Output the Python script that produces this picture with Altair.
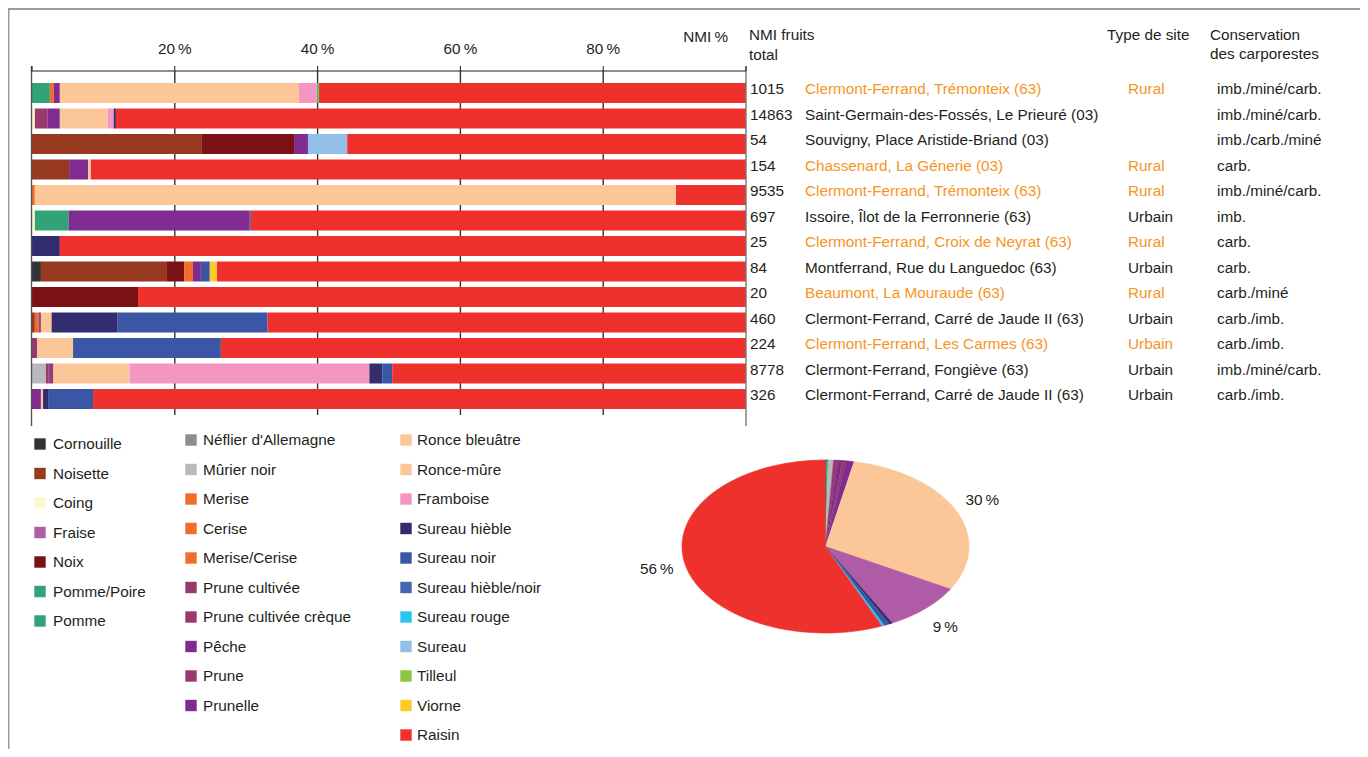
import altair as alt
import pandas as pd

FONT = "Liberation Sans"
FS = 15.3
DARK = "#231F20"
ORANGE = "#F7941D"

# ---------------- species / colours ----------------
species = ["Cornouille", "Noisette", "Coing", "Fraise", "Noix", "Pomme/Poire", "Pomme",
           "Néflier d'Allemagne", "Mûrier noir", "Merise", "Cerise", "Merise/Cerise",
           "Prune cultivée", "Prune cultivée crèque", "Pêche", "Prune", "Prunelle",
           "Ronce bleuâtre", "Ronce-mûre", "Framboise", "Sureau hièble", "Sureau noir",
           "Sureau hièble/noir", "Sureau rouge", "Sureau", "Tilleul", "Viorne", "Raisin"]
colors = ["#333333", "#96391F", "#FBF8CB", "#B05BA6", "#7A1214", "#33A276", "#33A276",
          "#8C8D91", "#B8B9BC", "#F26D2C", "#F26D2C", "#F26D2C",
          "#983A6C", "#983A6C", "#7F2B8F", "#983A6C", "#7F2B8F",
          "#FBC798", "#FBC798", "#F397C1", "#332C6F", "#3A56A4",
          "#4466B0", "#29C4F2", "#92BFE6", "#8DC641", "#FFCB2B", "#EE312C"]
legend_col1 = species[:7]
legend_col2 = species[7:17]
legend_col3 = species[17:]

# ---------------- sites table ----------------
nmi_total = [1015, 14863, 54, 154, 9535, 697, 25, 84, 20, 460, 224, 8778, 326]
sites = ["Clermont-Ferrand, Trémonteix (63)", "Saint-Germain-des-Fossés, Le Prieuré (03)",
         "Souvigny, Place Aristide-Briand (03)", "Chassenard, La Génerie (03)",
         "Clermont-Ferrand, Trémonteix (63)", "Issoire, Îlot de la Ferronnerie (63)",
         "Clermont-Ferrand, Croix de Neyrat (63)", "Montferrand, Rue du Languedoc (63)",
         "Beaumont, La Mouraude (63)", "Clermont-Ferrand, Carré de Jaude II (63)",
         "Clermont-Ferrand, Les Carmes (63)", "Clermont-Ferrand, Fongiève (63)",
         "Clermont-Ferrand, Carré de Jaude II (63)"]
site_type = ["Rural", "", "", "Rural", "Rural", "Urbain", "Rural", "Urbain", "Rural",
             "Urbain", "Urbain", "Urbain", "Urbain"]
conservation = ["imb./miné/carb.", "imb./miné/carb.", "imb./carb./miné", "carb.",
                "imb./miné/carb.", "imb.", "carb.", "carb.", "carb./miné", "carb./imb.",
                "carb./imb.", "imb./miné/carb.", "carb./imb."]
highlight = [True, False, False, True, True, False, True, False, True, False, True, False, False]

# ---------------- bar compositions (NMI %) ----------------
bar_species = [
    ["Pomme/Poire", "Merise", "Prunelle", "Ronce bleuâtre", "Framboise", "Sureau", "Tilleul", "Raisin"],
    ["Coing", "Prune cultivée", "Prunelle", "Ronce bleuâtre", "Framboise", "Sureau hièble", "Raisin"],
    ["Noisette", "Noix", "Prunelle", "Sureau", "Raisin"],
    ["Noisette", "Prunelle", "Ronce bleuâtre", "Raisin"],
    ["Merise", "Ronce-mûre", "Raisin"],
    ["Coing", "Pomme", "Prunelle", "Sureau noir", "Raisin"],
    ["Sureau hièble", "Raisin"],
    ["Cornouille", "Noisette", "Noix", "Merise", "Prunelle", "Sureau noir", "Viorne", "Raisin"],
    ["Noix", "Raisin"],
    ["Noisette", "Merise", "Prune", "Pêche", "Ronce bleuâtre", "Sureau hièble", "Sureau noir", "Raisin"],
    ["Prune cultivée", "Ronce bleuâtre", "Sureau noir", "Raisin"],
    ["Mûrier noir", "Prune cultivée", "Pêche", "Prune", "Ronce bleuâtre", "Framboise", "Sureau hièble", "Sureau noir", "Raisin"],
    ["Prunelle", "Ronce bleuâtre", "Sureau hièble", "Sureau noir", "Raisin"],
]
bar_values = [
    [2.5, 0.55, 0.85, 33.5, 2.4, 0.2, 0.2, 59.8],
    [0.4, 1.8, 1.7, 6.7, 0.85, 0.3, 88.25],
    [23.8, 12.9, 1.95, 5.5, 55.85],
    [5.2, 2.65, 0.4, 91.75],
    [0.4, 89.8, 9.8],
    [0.4, 4.75, 25.35, 0.15, 69.35],
    [3.9, 96.1],
    [1.25, 17.65, 2.4, 1.25, 1.1, 1.25, 1.0, 74.1],
    [14.85, 85.15],
    [0.4, 0.55, 0.15, 0.15, 1.5, 9.25, 21.0, 67.0],
    [0.7, 5.05, 20.7, 73.55],
    [1.95, 0.4, 0.15, 0.5, 10.65, 33.6, 1.8, 1.4, 49.55],
    [1.25, 0.3, 0.7, 6.3, 91.45],
]

# ---------------- pie (clockwise from top) ----------------
pie_species = ["Cornouille", "Pomme/Poire", "Mûrier noir", "Prune cultivée", "Pêche", "Prune",
               "Prunelle", "Ronce bleuâtre", "Fraise", "Sureau hièble", "Sureau noir",
               "Sureau rouge", "Raisin"]
pie_values = [0.1, 0.2, 0.6, 0.5, 0.5, 0.4, 0.9, 30.0, 9.1, 0.4, 0.6, 0.3, 56.4]

tick_values = [0, 20, 40, 60, 80, 100]
grid_values = [20, 40, 60, 80]

# ---------------- tables ----------------
rows = []
for i, (sp_list, v_list) in enumerate(zip(bar_species, bar_values)):
    for s, v in zip(sp_list, v_list):
        rows.append({"row": i, "species": s, "value": v, "sp_idx": species.index(s)})
bar_df = pd.DataFrame(rows)

table_df = pd.DataFrame({
    "row": list(range(len(sites))),
    "nmi": [str(n) for n in nmi_total],
    "site": sites,
    "type": site_type,
    "cons": conservation,
    "col": [ORANGE if h else DARK for h in highlight],
})

pie_df = pd.DataFrame({"species": pie_species, "value": pie_values,
                       "idx": list(range(len(pie_species)))})

W, H = 1352, 741
sp_scale = alt.Scale(domain=species, range=colors)
XB = alt.Scale(domain=[0, 100], range=[24, 738], nice=False, zero=False)
YB = alt.Scale(domain=list(range(13)), range=[72.25, 403.75], paddingInner=0.216, paddingOuter=0.108)
XP = alt.Scale(domain=[-1, 1], range=[674, 961], nice=False, zero=False)
YP = alt.Scale(domain=[-1, 1], range=[452, 625], nice=False, zero=False)

layers = []

# frame
frame_df = pd.DataFrame({"a": [0]})
layers.append(alt.Chart(frame_df).mark_rule(color="#9A9A9A", strokeWidth=2).encode(
    x=alt.value(0), x2=alt.value(W), y=alt.value(1)))
layers.append(alt.Chart(frame_df).mark_rule(color="#9A9A9A", strokeWidth=2).encode(
    x=alt.value(0.5), y=alt.value(1), y2=alt.value(H)))

# gridlines
layers.append(alt.Chart(pd.DataFrame({"t": grid_values})).mark_rule(color="#333333", strokeWidth=1.4).encode(
    x=alt.X("t:Q", scale=XB, axis=None), y=alt.value(63), y2=alt.value(407)))

# bars
layers.append(alt.Chart(bar_df).mark_bar().encode(
    x=alt.X("value:Q", stack="zero", scale=XB, axis=None),
    y=alt.Y("row:O", scale=YB, axis=None),
    color=alt.Color("species:N", scale=sp_scale, legend=None),
    order=alt.Order("sp_idx:Q", sort="ascending"),
))

# axis lines
layers.append(alt.Chart(frame_df).mark_rule(color="#555555", strokeWidth=1.4).encode(
    x=alt.value(23.5), y=alt.value(58), y2=alt.value(418)))
layers.append(alt.Chart(frame_df).mark_rule(color="#777777", strokeWidth=1.4).encode(
    x=alt.value(738), y=alt.value(58), y2=alt.value(418)))
layers.append(alt.Chart(frame_df).mark_rule(color=DARK, strokeWidth=1.2).encode(
    x=alt.value(23.5), x2=alt.value(738), y=alt.value(63)))
tick_df = pd.DataFrame({"t": tick_values})
layers.append(alt.Chart(tick_df).mark_rule(color=DARK, strokeWidth=1).encode(
    x=alt.X("t:Q", scale=XB, axis=None), y=alt.value(58), y2=alt.value(63)))
layers.append(alt.Chart(tick_df).transform_filter("datum.t > 0 && datum.t < 100").transform_calculate(
    lab="datum.t + '\u2009%'").mark_text(font=FONT, fontSize=FS, color=DARK, baseline="middle").encode(
    x=alt.X("t:Q", scale=XB, axis=None), y=alt.value(41), text="lab:N"))

# headers
def label(txt, x, y, align="left"):
    return alt.Chart(pd.DataFrame({"t": [txt]})).mark_text(
        font=FONT, fontSize=FS, color=DARK, align=align, baseline="middle").encode(
        x=alt.value(x), y=alt.value(y), text="t:N")

layers += [
    label("NMI\u2009%", 720, 29, "right"),
    label("NMI fruits", 741, 27),
    label("total", 741, 47),
    label("Type de site", 1099, 27),
    label("Conservation", 1202, 27),
    label("des carporestes", 1202, 46),
]

# table text
def col_text(field, x, colored):
    enc = dict(x=alt.value(x), y=alt.Y("row:O", scale=YB, axis=None), text=f"{field}:N")
    if colored:
        enc["color"] = alt.Color("col:N", scale=None)
    mk = alt.Chart(table_df).mark_text(font=FONT, fontSize=FS, align="left", baseline="middle",
                                       dy=-4, color=DARK)
    return mk.encode(**enc)

layers += [
    col_text("nmi", 742, False),
    col_text("site", 797, True),
    col_text("type", 1120, True),
    col_text("cons", 1209, False),
]

# legend columns
def legend_col(names, sq_x, txt_x, top):
    df = pd.DataFrame({"species": names, "i": list(range(len(names)))})
    ys = alt.Scale(domain=[0, 10], range=[top, top + 295], nice=False, zero=False)
    sq = alt.Chart(df).mark_square(size=130, opacity=1).encode(
        x=alt.value(sq_x), y=alt.Y("i:Q", scale=ys, axis=None),
        color=alt.Color("species:N", scale=sp_scale, legend=None))
    tx = alt.Chart(df).mark_text(font=FONT, fontSize=FS, color=DARK, align="left", baseline="middle").encode(
        x=alt.value(txt_x), y=alt.Y("i:Q", scale=ys, axis=None), text="species:N")
    return [sq, tx]

layers += legend_col(legend_col1, 32, 45, 436)
layers += legend_col(legend_col2, 183, 195, 432)
layers += legend_col(legend_col3, 398, 409, 432)

# pie as elliptical polygons
pie_base = alt.Chart(pie_df).transform_joinaggregate(total="sum(value)").transform_window(
    cum="sum(value)", sort=[alt.SortField("idx")], frame=[None, 0]).transform_calculate(
    a0="2*PI*(datum.cum - datum.value)/datum.total",
    a1="2*PI*datum.cum/datum.total")

pie = pie_base.transform_calculate(k="sequence(0, 122)").transform_flatten(["k"]).transform_calculate(
    r="datum.k == 0 ? 0 : 1",
    ang="datum.a0 + (datum.a1 - datum.a0) * max(datum.k - 1, 0) / 120",
).transform_calculate(
    px="datum.r * sin(datum.ang)",
    py="-datum.r * cos(datum.ang)",
).mark_line(strokeWidth=0.6, strokeJoin="round").encode(
    x=alt.X("px:Q", scale=XP, axis=None),
    y=alt.Y("py:Q", scale=YP, axis=None),
    detail="species:N",
    order=alt.Order("k:Q"),
    color=alt.Color("species:N", scale=sp_scale, legend=None),
    fill=alt.Fill("species:N", scale=sp_scale, legend=None),
)
layers.append(pie)

pie_labels = pie_base.transform_filter("datum.value >= 5").transform_calculate(
    mid="(datum.a0 + datum.a1) / 2",
).transform_calculate(
    lx="1.2 * sin(datum.mid)",
    ly="-1.3 * cos(datum.mid)",
    lab="format(datum.value, '.0f') + '\u2009%'",
).mark_text(font=FONT, fontSize=FS, color=DARK, baseline="middle").encode(
    x=alt.X("lx:Q", scale=XP, axis=None),
    y=alt.Y("ly:Q", scale=YP, axis=None),
    text="lab:N",
)
layers.append(pie_labels)

chart = alt.layer(*layers).resolve_scale(
    x="independent", y="independent", color="independent", fill="independent"
).properties(
    width=W, height=H, padding=0, autosize=alt.AutoSizeParams(type="none"), background="white"
).configure_view(stroke=None)

chart.save("out.html", embed_options={"renderer": "svg", "actions": False})
